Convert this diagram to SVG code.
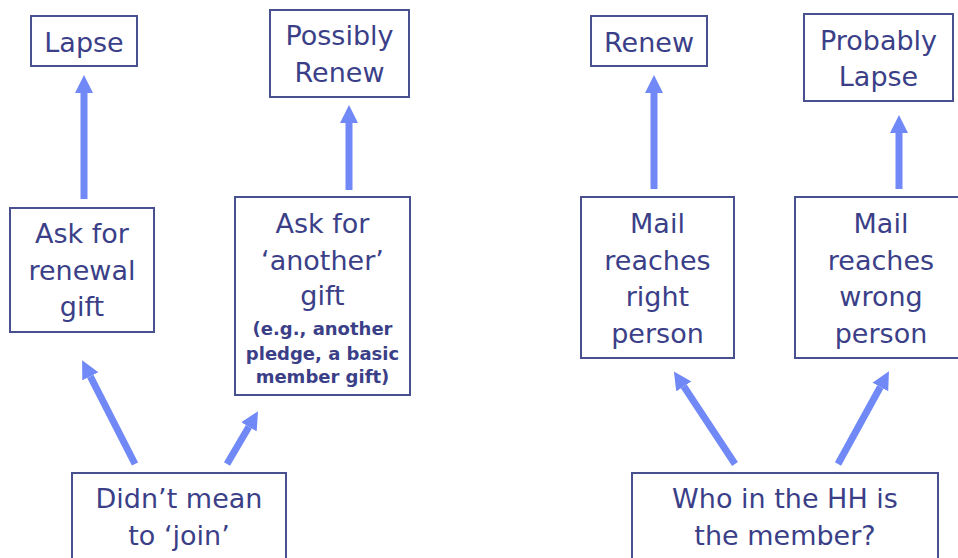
<svg xmlns="http://www.w3.org/2000/svg" width="958" height="558" viewBox="0 0 958 558">
<style>
.box{fill:#fff;stroke:#48508f;stroke-width:2}
.t{font-family:"DejaVu Sans","Liberation Sans",sans-serif;font-size:27px;fill:#3b3f88;text-anchor:middle}
.s{font-family:"DejaVu Sans","Liberation Sans",sans-serif;font-size:18px;font-weight:bold;fill:#3b3f88;text-anchor:middle}
.a{stroke:#7089f6;stroke-width:7;fill:none;marker-end:url(#ah)}
</style>
<defs>
<marker id="ah" markerUnits="userSpaceOnUse" markerWidth="18" markerHeight="18" refX="0" refY="8" orient="auto" viewBox="0 0 16 16">
<path d="M0,0 L16,8 L0,16 z" fill="#7089f6"/>
</marker>
</defs>
<rect width="958" height="558" fill="#fff"/>
<g id="connectors">
<line class="a" x1="84" y1="199" x2="84" y2="93"/>
<line class="a" x1="349" y1="190" x2="349" y2="123"/>
<line class="a" x1="654" y1="189" x2="654" y2="93"/>
<line class="a" x1="899" y1="189" x2="899" y2="133"/>
<line class="a" x1="135" y1="464" x2="90.3" y2="376.3"/>
<line class="a" x1="227" y1="464" x2="248.9" y2="426.8"/>
<line class="a" x1="735" y1="464" x2="683.8" y2="386.4"/>
<line class="a" x1="838" y1="464" x2="880.3" y2="387"/>
</g>
<g id="lapse"><rect class="box" x="31" y="16" width="106" height="50"/><text class="t" x="84" y="52">Lapse</text></g>
<g id="possibly-renew"><rect class="box" x="270" y="10" width="139" height="87"/><text class="t" x="339.5" y="45">Possibly</text><text class="t" x="339.5" y="82">Renew</text></g>
<g id="renew"><rect class="box" x="591" y="16" width="116" height="50"/><text class="t" x="649" y="52">Renew</text></g>
<g id="probably-lapse"><rect class="box" x="804" y="14" width="149" height="87"/><text class="t" x="878.5" y="50">Probably</text><text class="t" x="878.5" y="86">Lapse</text></g>
<g id="ask-renewal"><rect class="box" x="10" y="208" width="144" height="124"/><text class="t" x="82" y="243">Ask for</text><text class="t" x="82" y="280">renewal</text><text class="t" x="82" y="316">gift</text></g>
<g id="ask-another"><rect class="box" x="235" y="197" width="175" height="198"/><text class="t" x="322.5" y="233">Ask for</text><text class="t" x="322.5" y="270">‘another’</text><text class="t" x="322.5" y="305">gift</text><text class="s" x="322.5" y="335">(e.g., another</text><text class="s" x="322.5" y="360">pledge, a basic</text><text class="s" x="322.5" y="383">member gift)</text></g>
<g id="mail-right"><rect class="box" x="581" y="197" width="153" height="161"/><text class="t" x="657.5" y="233">Mail</text><text class="t" x="657.5" y="270">reaches</text><text class="t" x="657.5" y="306">right</text><text class="t" x="657.5" y="343">person</text></g>
<g id="mail-wrong"><rect class="box" x="795" y="197" width="175" height="161"/><text class="t" x="881" y="233">Mail</text><text class="t" x="881" y="270">reaches</text><text class="t" x="881" y="306">wrong</text><text class="t" x="881" y="343">person</text></g>
<g id="didnt-join"><rect class="box" x="72" y="473" width="214" height="100"/><text class="t" x="179" y="508">Didn’t mean</text><text class="t" x="179" y="545">to ‘join’</text></g>
<g id="who-member"><rect class="box" x="632" y="473" width="306" height="100"/><text class="t" x="785" y="508">Who in the HH is</text><text class="t" x="785" y="545">the member?</text></g>
</svg>
